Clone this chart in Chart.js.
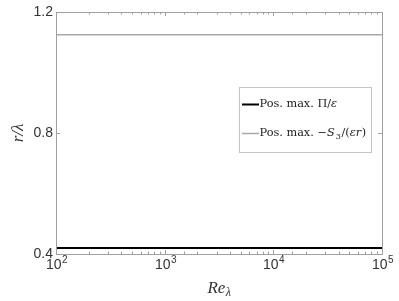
<!DOCTYPE html>
<html><head><meta charset="utf-8">
<script src="https://cdn.jsdelivr.net/npm/chart.js@4"></script>
<style>html,body{margin:0;padding:0;background:#fff;}#wrap{width:399px;height:301px;}</style>
</head><body><div id="wrap"><canvas id="c" width="399" height="301"></canvas></div>
<script>
const reLambda = [100, 1000, 10000, 100000];
const posMaxPi = [0.42, 0.42, 0.42, 0.42];
const posMaxS3 = [1.125, 1.125, 1.125, 1.125];
const yTickValues = [0.4, 0.8, 1.2];
const xTickExponents = {100: '2', 1000: '3', 10000: '4', 100000: '5'};
const seriesNames = ['Pos. max. Π/ε', 'Pos. max. −S₃/(εr)'];
// legend label pieces (text, italic?, sub?)
const legendParts = [
  [['Pos. max. ', false], ['Π', false], ['/', false], ['ε', true]],
  [['Pos. max. ', false], ['−', false], ['S', true], ['3', false, 'sub'], ['/(', false], ['εr', true], [')', false]]
];

const AXIS = '#a0a0a0';
const TXT = '#333';
const SERIF = '"DejaVu Serif", "Liberation Serif", serif';
const SANS = '"Liberation Sans", Arial, sans-serif';

const ticksPlugin = {
  id: 'inwardTicks',
  afterDatasetsDraw(chart) {
    const ctx = chart.ctx, a = chart.chartArea;
    const xs = chart.scales.x, ys = chart.scales.y;
    ctx.save();
    ctx.strokeStyle = AXIS; ctx.lineWidth = 1;
    xs.ticks.forEach(t => {
      const px = Math.round(xs.getPixelForValue(t.value)) + 0.5;
      const major = xTickExponents[t.value] !== undefined;
      const L = major ? 4 : 2.5;
      ctx.beginPath();
      ctx.moveTo(px, a.bottom); ctx.lineTo(px, a.bottom - L);
      ctx.moveTo(px, a.top); ctx.lineTo(px, a.top + L);
      ctx.stroke();
      if (major) {
        ctx.fillStyle = TXT;
        ctx.textBaseline = 'alphabetic';
        ctx.font = '14px ' + SANS;
        const w1 = ctx.measureText('10').width;
        ctx.font = '10px ' + SANS;
        const w2 = ctx.measureText(xTickExponents[t.value]).width;
        const x0 = px - (w1 + w2) / 2;
        ctx.font = '14px ' + SANS;
        ctx.fillText('10', x0, 269);
        ctx.font = '10px ' + SANS;
        ctx.fillText(xTickExponents[t.value], x0 + w1 + 0.5, 263);
      }
    });
    ys.ticks.forEach(t => {
      const py = Math.round(ys.getPixelForValue(t.value)) + 0.5;
      ctx.beginPath();
      ctx.moveTo(a.left, py); ctx.lineTo(a.left + 4, py);
      ctx.moveTo(a.right, py); ctx.lineTo(a.right - 4, py);
      ctx.stroke();
    });
    ctx.strokeRect(Math.round(a.left) + 0.5, Math.round(a.top) + 0.5, Math.round(a.right - a.left), Math.round(a.bottom - a.top));
    ctx.restore();
  },
  afterDraw(chart) {
    const ctx = chart.ctx, a = chart.chartArea;
    ctx.save();
    // x-axis title Re_λ
    const cx = (a.left + a.right) / 2;
    const base = 293;
    ctx.fillStyle = TXT;
    ctx.textBaseline = 'alphabetic';
    ctx.font = 'italic 17px "Liberation Serif", serif';
    const w1 = ctx.measureText('Re').width;
    ctx.font = 'italic 12px "Liberation Serif", serif';
    const w2 = ctx.measureText('λ').width;
    let x0 = cx - (w1 + w2) / 2;
    ctx.font = 'italic 17px "Liberation Serif", serif';
    ctx.fillText('Re', x0, base);
    ctx.font = 'italic 12px "Liberation Serif", serif';
    ctx.fillText('λ', x0 + w1 + 0.5, base + 3);

    // legend
    const bx = 239.5, by = 87.5, bw = 132, bh = 65;
    ctx.fillStyle = '#fff';
    ctx.fillRect(bx, by, bw, bh);
    ctx.strokeStyle = '#c4c4c4'; ctx.lineWidth = 1;
    ctx.strokeRect(bx, by, bw, bh);
    const rows = [104, 133];
    chart.data.datasets.forEach((ds, i) => {
      const y = rows[i];
      ctx.strokeStyle = ds.borderColor; ctx.lineWidth = ds.borderWidth;
      ctx.beginPath(); ctx.moveTo(242, y + 0.5); ctx.lineTo(259, y + 0.5); ctx.stroke();
      let x = 259.5;
      ctx.fillStyle = '#222';
      ctx.textBaseline = 'middle';
      legendParts[i].forEach(p => {
        const sub = p[2] === 'sub';
        ctx.font = (p[1] ? 'italic ' : '') + (sub ? '8px ' : '11.3px ') + SERIF;
        ctx.fillText(p[0], x + (sub ? 0.5 : 0), y + 0.5 + (sub ? 3 : 0));
        x += ctx.measureText(p[0]).width + (p[1] ? 0.6 : 0) + (sub ? 1.2 : 0);
      });
    });
    ctx.restore();
  }
};

new Chart(document.getElementById('c'), {
  type: 'line',
  data: {
    datasets: [
      { label: seriesNames[0], data: reLambda.map((x, i) => ({x, y: posMaxPi[i]})), borderColor: '#000', borderWidth: 2, pointRadius: 0, fill: false },
      { label: seriesNames[1], data: reLambda.map((x, i) => ({x, y: posMaxS3[i]})), borderColor: '#a8a8a8', borderWidth: 1.5, pointRadius: 0, fill: false }
    ]
  },
  options: {
    responsive: false, animation: false,
    layout: { padding: { top: 12, right: 17, left: 0, bottom: 0 } },
    plugins: { legend: { display: false }, tooltip: { enabled: false } },
    scales: {
      x: {
        type: 'logarithmic', min: 100, max: 100000,
        grid: { display: false, drawTicks: false },
        border: { display: false },
        ticks: { display: false, autoSkip: false },
        afterFit: (s) => { s.height = 47; }
      },
      y: {
        min: 0.4, max: 1.2,
        afterBuildTicks: (s) => { s.ticks = yTickValues.map(v => ({value: v})); },
        grid: { display: false, drawTicks: false },
        border: { display: false },
        ticks: {
          padding: 3, color: TXT,
          font: { family: SANS, size: 14 },
          callback: (v) => v.toFixed(1)
        },
        title: { display: true, text: 'r/λ', color: TXT, font: { family: '"Liberation Serif", serif', size: 17, style: 'italic' }, padding: { top: 8, bottom: 0 } },
        afterFit: (s) => { s.width = 56; }
      }
    }
  },
  plugins: [ticksPlugin]
});
</script></body></html>
